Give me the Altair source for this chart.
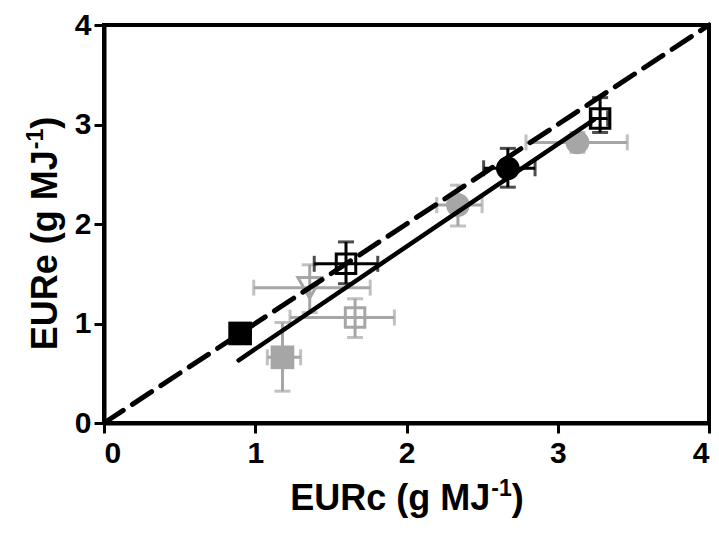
import altair as alt
import pandas as pd

# ---- data ----
labels   = ["A", "B", "C", "D", "E", "F", "G", "H", "I"]
group    = ["black", "black", "black", "black", "gray", "gray", "gray", "gray", "gray"]
shape    = ["square", "square", "circle", "square", "square", "triangle-down", "square", "circle", "circle"]
filled   = [True, False, True, False, True, False, False, True, True]
eurc     = [0.90, 1.60, 2.67, 3.28, 1.18, 1.36, 1.66, 2.34, 3.13]
eure     = [0.90, 1.60, 2.56, 3.06, 0.66, 1.36, 1.06, 2.19, 2.82]
eurc_lo  = [0.87, 1.39, 2.51, 3.22, 1.08, 0.99, 1.23, 2.20, 2.79]
eurc_hi  = [0.93, 1.81, 2.85, 3.33, 1.30, 1.76, 1.92, 2.50, 3.46]
eure_lo  = [0.87, 1.40, 2.37, 2.92, 0.32, 1.11, 0.86, 1.98, 2.72]
eure_hi  = [0.93, 1.82, 2.76, 3.27, 1.01, 1.59, 1.25, 2.39, 2.92]

line11_x = [0.0, 4.0]
line11_y = [0.0, 4.0]
reg_x = [0.89, 3.24]
reg_y = [0.63, 3.05]

ticks = [0, 1, 2, 3, 4]

x_title = ["EURc (g MJ", "-1", ")"]
y_title = ["EURe (g MJ", "-1", ")"]

BLACK = "#000000"
GRAY = "#a6a6a6"
FONT = "Liberation Sans"
W, H = 605, 398
TFS, SFS = 36, 23

df = pd.DataFrame({
    "label": labels, "group": group, "shape": shape, "filled": filled,
    "x": eurc, "y": eure, "xlo": eurc_lo, "xhi": eurc_hi,
    "ylo": eure_lo, "yhi": eure_hi,
})
df11 = pd.DataFrame({"x": line11_x, "y": line11_y})
dfreg = pd.DataFrame({"x": reg_x, "y": reg_y})

xs = alt.Scale(domain=[0, 4], nice=False, zero=False)
ys = alt.Scale(domain=[0, 4], nice=False, zero=False)
XAX = alt.Axis(values=ticks, title=None, format="d")
YAX = alt.Axis(values=ticks, title=None, format="d")


def X(f):
    return alt.X(f + ":Q", scale=xs, axis=XAX)


def Y(f):
    return alt.Y(f + ":Q", scale=ys, axis=YAX)


def errbars(sub, color):
    base = alt.Chart(sub)
    hx = base.mark_rule(color=color, strokeWidth=3).encode(x=X("xlo"), x2="xhi:Q", y=Y("y"))
    vy = base.mark_rule(color=color, strokeWidth=3).encode(x=X("x"), y=Y("ylo"), y2="yhi:Q")
    caps = []
    for f in ["xlo", "xhi"]:
        caps.append(base.mark_tick(color=color, orient="vertical", size=16, thickness=3).encode(
            x=X(f), y=Y("y")))
    for f in ["ylo", "yhi"]:
        caps.append(base.mark_tick(color=color, orient="horizontal", size=16, thickness=3).encode(
            x=X("x"), y=Y(f)))
    return [hx, vy] + caps


def markers(sub, color):
    layers = []
    for (shp, fil), g in sub.groupby(["shape", "filled"]):
        if shp == "square":
            size = 560 if fil else 380
        elif shp == "circle":
            size = 560
        else:
            size = 560
        if fil:
            m = alt.Chart(g).mark_point(shape=shp, filled=True, size=size, color=color, opacity=1)
        else:
            m = alt.Chart(g).mark_point(shape=shp, filled=False, size=size, color=color,
                                        strokeWidth=3, opacity=1)
        layers.append(m.encode(x=X("x"), y=Y("y")))
    return layers


def txt(s, x, y, size, align, angle=0):
    d = pd.DataFrame({"t": [s]})
    return alt.Chart(d).mark_text(font=FONT, fontWeight="bold", fontSize=size, color=BLACK,
                                  align=align, baseline="alphabetic", angle=angle).encode(
        x=alt.value(x), y=alt.value(y), text="t:N")


# widths (Arial-bold metrics) used only to centre the composed titles
main_w = 5.556 * TFS
sup_w = 0.889 * SFS
par_w = 0.333 * TFS
tot = main_w + sup_w + par_w

# x title
xa = W / 2 - tot / 2 + main_w
xb = 485
xt = [txt(x_title[0], xa, xb, TFS, "right"),
      txt(x_title[1], xa + 1, xb - 14, SFS, "left"),
      txt(x_title[2], xa + 1 + sup_w, xb, TFS, "left")]

# y title (rotated)
ya = H / 2 + 10 + tot / 2 - main_w
yb = -47
yt = [txt(y_title[0], yb, ya, TFS, "right", 270),
      txt(y_title[1], yb - 14, ya - 1, SFS, "left", 270),
      txt(y_title[2], yb, ya - 1 - sup_w, TFS, "left", 270)]

gray = df[df.group == "gray"]
black = df[df.group == "black"]

line11 = alt.Chart(df11).mark_line(color=BLACK, strokeWidth=5, strokeDash=[23, 11],
                                   strokeCap="round").encode(x=X("x"), y=Y("y"))
regline = alt.Chart(dfreg).mark_line(color=BLACK, strokeWidth=4.5, strokeCap="round").encode(
    x=X("x"), y=Y("y"))

layers = errbars(gray, GRAY) + markers(gray, GRAY) + [line11, regline] \
    + errbars(black, BLACK) + markers(black, BLACK) + xt + yt

chart = alt.layer(*layers).properties(
    width=W, height=H,
    autosize=alt.AutoSizeParams(type="none"),
    padding={"left": 96, "top": 17, "right": 2, "bottom": 100},
).configure_view(
    stroke=BLACK, strokeWidth=4
).configure_axis(
    grid=False,
    domainColor=BLACK, domainWidth=4,
    tickColor=BLACK, tickWidth=3, tickSize=10,
    labelFont=FONT, labelFontSize=30, labelFontWeight="bold", labelColor=BLACK,
    labelPadding=3,
).configure_axisX(labelAngle=0, labelPadding=5)

chart.save("out.html", embed_options={"renderer": "svg", "actions": False})
